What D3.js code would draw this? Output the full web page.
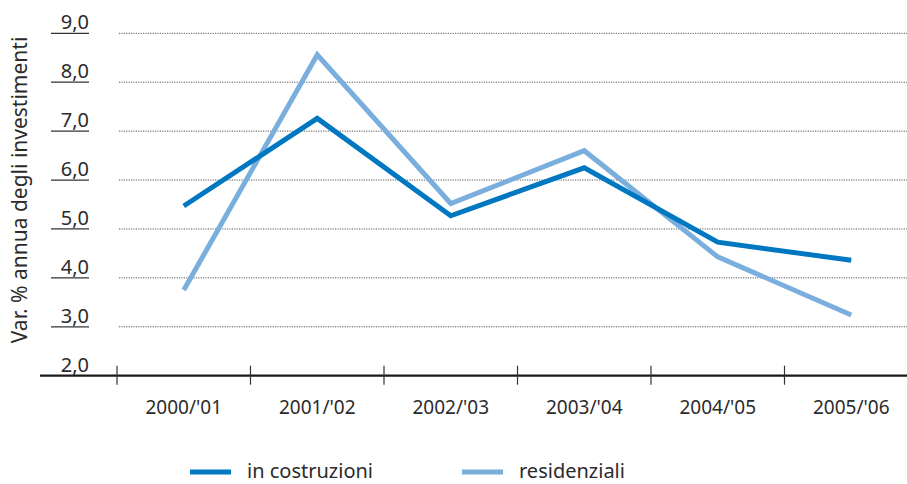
<!DOCTYPE html>
<html>
<head>
<meta charset="utf-8">
<script src="https://cdn.jsdelivr.net/npm/d3@7"></script>
<style>
  html, body { margin: 0; padding: 0; background: #fff; }
  svg { display: block; font-family: "Noto Sans", "DejaVu Sans", sans-serif; }
</style>
</head>
<body>
<svg id="chart" width="907" height="484"></svg>
<script>
// Annual % change in investment, by season
const categories = ["2000/'01", "2001/'02", "2002/'03", "2003/'04", "2004/'05", "2005/'06"];
const costruzioni = [5.47, 7.26, 5.27, 6.25, 4.73, 4.36];
const residenziali = [3.75, 8.56, 5.52, 6.60, 4.43, 3.24];
const yTicks = [2, 3, 4, 5, 6, 7, 8, 9];
const seriesNames = ["in costruzioni", "residenziali"];
const seriesColors = ["#0077c1", "#7aaedd"];

const svg = d3.select("#chart");
const fmt = v => d3.format(".1f")(v).replace(".", ",");

const x = d3.scaleBand().domain(categories).range([117, 117 + 6 * 133.5]);
const y = d3.scaleLinear().domain([2, 9]).range([375.7, 33.3]);

// dotted horizontal gridlines
svg.append("g")
  .selectAll("line")
  .data(yTicks.filter(d => d > 2))
  .join("line")
  .attr("x1", 119).attr("x2", 907)
  .attr("y1", d => y(d)).attr("y2", d => y(d))
  .attr("stroke", "#555").attr("stroke-width", 1)
  .attr("stroke-dasharray", "1.2,1.2");

// y tick labels sitting on a short rule
const yl = svg.append("g");
yl.selectAll("line")
  .data(yTicks.filter(d => d > 2))
  .join("line")
  .attr("x1", 51).attr("x2", 89)
  .attr("y1", d => y(d)).attr("y2", d => y(d))
  .attr("stroke", "#333").attr("stroke-width", 1.2);
yl.selectAll("text")
  .data(yTicks)
  .join("text")
  .attr("x", 89).attr("y", d => y(d) - 4)
  .attr("text-anchor", "end")
  .attr("font-size", 20).attr("fill", "#2b2b2b")
  .text(fmt);

// y axis title
svg.append("text")
  .attr("transform", "translate(27,190) rotate(-90)")
  .attr("text-anchor", "middle")
  .attr("font-size", 21).attr("fill", "#2b2b2b")
  .text("Var. % annua degli investimenti");

// x axis: baseline, separators, category labels
const xAxis = d3.axisBottom(x).tickSize(0).tickPadding(0);
const gx = svg.append("g").attr("transform", `translate(0,${y(2)})`).call(xAxis);
gx.select(".domain").remove();
gx.selectAll("text")
  .attr("dy", 0).attr("y", 38)
  .attr("font-size", 19).attr("fill", "#2b2b2b")
  .attr("font-family", "\"Noto Sans\", \"DejaVu Sans\", sans-serif");
svg.append("line")
  .attr("x1", 40).attr("x2", 907)
  .attr("y1", y(2)).attr("y2", y(2))
  .attr("stroke", "#1a1a1a").attr("stroke-width", 2.2);
svg.append("g")
  .selectAll("line")
  .data(categories)
  .join("line")
  .attr("x1", d => x(d)).attr("x2", d => x(d))
  .attr("y1", y(2) - 10).attr("y2", y(2) + 9)
  .attr("stroke", "#333").attr("stroke-width", 1.2);

// series lines
const line = d3.line()
  .x((d, i) => x(categories[i]) + x.bandwidth() / 2)
  .y(d => y(d));
[residenziali, costruzioni].forEach((s, k) => {
  svg.append("path")
    .datum(s)
    .attr("d", line)
    .attr("fill", "none")
    .attr("stroke", k === 0 ? seriesColors[1] : seriesColors[0])
    .attr("stroke-width", 5)
    .attr("stroke-linejoin", "miter");
});

// legend
const legendX = [190, 462];
seriesNames.forEach((name, i) => {
  const g = svg.append("g").attr("transform", `translate(${legendX[i]},472)`);
  g.append("line").attr("x1", 0).attr("x2", 41)
    .attr("stroke", seriesColors[i]).attr("stroke-width", 5);
  g.append("text").attr("x", 57).attr("y", 6)
    .attr("font-size", 20).attr("fill", "#2b2b2b")
    .text(name);
});
</script>
</body>
</html>
